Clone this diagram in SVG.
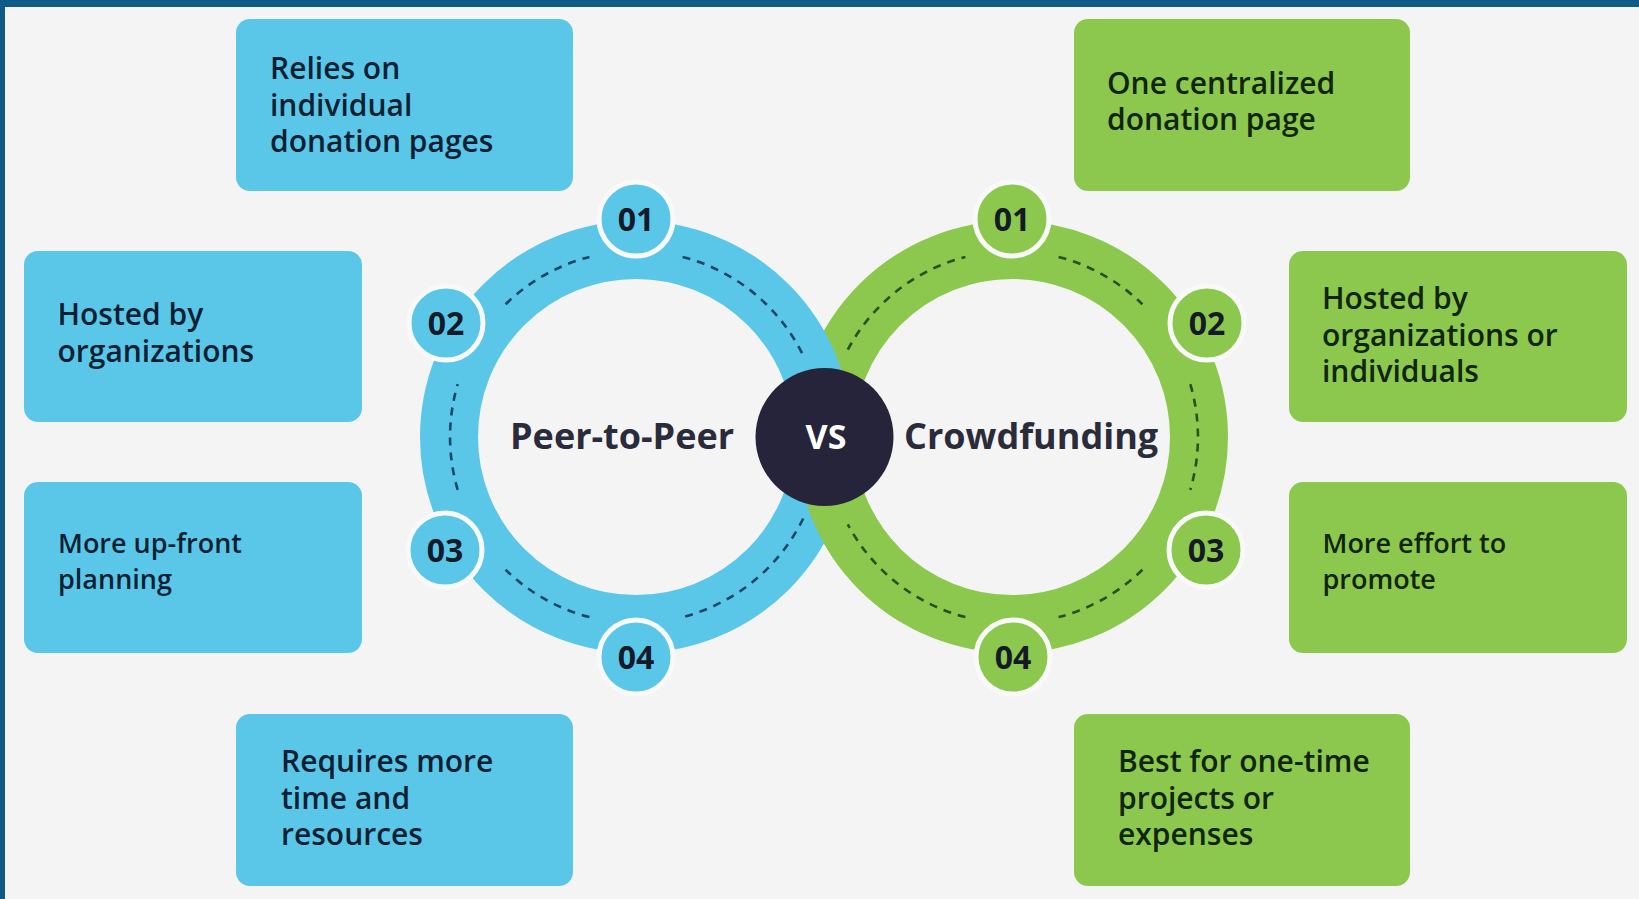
<svg xmlns="http://www.w3.org/2000/svg" width="1639" height="899" viewBox="0 0 1639 899">
<style>
.bbox{fill:#5bc7e8}
.gbox{fill:#8cc84d}
.bt{font-family:"Open Sans","Noto Sans","Liberation Sans",sans-serif;font-weight:600;font-size:30px;fill:#0d1f33}
.gt{font-family:"Open Sans","Noto Sans","Liberation Sans",sans-serif;font-weight:600;font-size:30px;fill:#11250d}
.sm{font-size:27px}
.bring{fill:none;stroke:#5bc7e8;stroke-width:58}
.gring{fill:none;stroke:#8cc84d;stroke-width:58}
.bdash{fill:none;stroke:#1b4865;stroke-width:2.6;stroke-dasharray:8 7}
.gdash{fill:none;stroke:#29501d;stroke-width:2.6;stroke-dasharray:8 7}
.bb{fill:#5bc7e8;stroke:#f9f9f9;stroke-width:5}
.gb{fill:#8cc84d;stroke:#f9f9f9;stroke-width:5}
.num{font-family:"Open Sans","Noto Sans","Liberation Sans",sans-serif;font-weight:700;font-size:32px;fill:#141a28;text-anchor:middle}
.title{font-family:"Open Sans","Noto Sans","Liberation Sans",sans-serif;font-weight:700;font-size:36px;fill:#2a2b3b}
</style>
<defs>
<clipPath id="lowclip"><rect x="740" y="437" width="160" height="300"/></clipPath>
</defs>
<rect x="0" y="0" width="1639" height="899" fill="#f4f4f4"/>
<rect x="0" y="0" width="1639" height="7" fill="#0f5a86"/>
<rect x="0" y="0" width="5" height="899" fill="#0f5a86"/>

<g id="box-p1"><rect class="bbox" x="236" y="19" width="337" height="172" rx="14"/>
<text class="bt"><tspan x="270" y="79">Relies on</tspan><tspan x="270" y="115.5">individual</tspan><tspan x="270" y="152">donation pages</tspan></text></g>
<g id="box-p2"><rect class="bbox" x="24" y="251" width="338" height="171" rx="14"/>
<text class="bt"><tspan x="57.5" y="325">Hosted by</tspan><tspan x="57.5" y="362">organizations</tspan></text></g>
<g id="box-p3"><rect class="bbox" x="24" y="482" width="338" height="171" rx="14"/>
<text class="bt sm"><tspan x="58" y="553">More up-front</tspan><tspan x="58" y="589">planning</tspan></text></g>
<g id="box-p4"><rect class="bbox" x="236" y="714" width="337" height="172" rx="14"/>
<text class="bt"><tspan x="281" y="772">Requires more</tspan><tspan x="281" y="808.5">time and</tspan><tspan x="281" y="845">resources</tspan></text></g>

<g id="box-c1"><rect class="gbox" x="1074" y="19" width="336" height="172" rx="14"/>
<text class="gt"><tspan x="1107" y="94">One centralized</tspan><tspan x="1107" y="130">donation page</tspan></text></g>
<g id="box-c2"><rect class="gbox" x="1289" y="251" width="338" height="171" rx="14"/>
<text class="gt"><tspan x="1322" y="309">Hosted by</tspan><tspan x="1322" y="345.5">organizations or</tspan><tspan x="1322" y="382">individuals</tspan></text></g>
<g id="box-c3"><rect class="gbox" x="1289" y="482" width="338" height="171" rx="14"/>
<text class="gt sm"><tspan x="1322.5" y="553">More effort to</tspan><tspan x="1322.5" y="589">promote</tspan></text></g>
<g id="box-c4"><rect class="gbox" x="1074" y="714" width="336" height="172" rx="14"/>
<text class="gt"><tspan x="1118" y="772">Best for one-time</tspan><tspan x="1118" y="808.5">projects or</tspan><tspan x="1118" y="845">expenses</tspan></text></g>

<g id="ring-crowdfunding">
<circle class="gring" cx="1012" cy="437" r="187"/>
<path class="gdash" d="M847.8,349.7 A186,186 0 0 1 965.4,256.9 M1058.6,256.9 A186,186 0 0 1 1142.4,304.3 M1190.3,384.2 A186,186 0 0 1 1190.3,489.8 M1142.4,569.7 A186,186 0 0 1 1058.6,617.1 M965.4,617.1 A186,186 0 0 1 847.8,524.3"/>
</g>
<g id="ring-p2p">
<circle class="bring" cx="636" cy="437" r="187"/>
<path class="bdash" d="M682.6,256.9 A186,186 0 0 1 803.2,355.5 M803.2,518.5 A186,186 0 0 1 682.6,617.1 M589.4,617.1 A186,186 0 0 1 505.6,569.7 M457.7,489.8 A186,186 0 0 1 457.7,384.2 M505.6,304.3 A186,186 0 0 1 589.4,256.9"/>
</g>
<g id="ring-crowdfunding-over" clip-path="url(#lowclip)">
<circle class="gring" cx="1012" cy="437" r="187"/>
<path class="gdash" d="M965.4,617.1 A186,186 0 0 1 847.8,524.3"/>
</g>

<g id="vs"><circle cx="824.5" cy="437" r="69" fill="#26243a"/>
<text x="826" y="449" font-family="Open Sans, Noto Sans, Liberation Sans, sans-serif" font-weight="700" font-size="34" fill="#ffffff" text-anchor="middle">VS</text></g>

<g id="label-p2p"><text class="title" x="510" y="449">Peer-to-Peer</text></g>
<g id="label-crowd"><text class="title" x="904" y="449">Crowdfunding</text></g>

<g id="badge-p1"><circle class="bb" cx="636" cy="219" r="37"/><text class="num" x="636" y="230.5">01</text></g>
<g id="badge-p2"><circle class="bb" cx="446" cy="323" r="37"/><text class="num" x="446" y="334.5">02</text></g>
<g id="badge-p3"><circle class="bb" cx="445" cy="550" r="37"/><text class="num" x="445" y="561.5">03</text></g>
<g id="badge-p4"><circle class="bb" cx="636" cy="657" r="37"/><text class="num" x="636" y="668.5">04</text></g>

<g id="badge-c1"><circle class="gb" cx="1012" cy="219" r="37"/><text class="num" x="1012" y="230.5">01</text></g>
<g id="badge-c2"><circle class="gb" cx="1207" cy="323" r="37"/><text class="num" x="1207" y="334.5">02</text></g>
<g id="badge-c3"><circle class="gb" cx="1206" cy="550" r="37"/><text class="num" x="1206" y="561.5">03</text></g>
<g id="badge-c4"><circle class="gb" cx="1013" cy="657" r="37"/><text class="num" x="1013" y="668.5">04</text></g>
</svg>
